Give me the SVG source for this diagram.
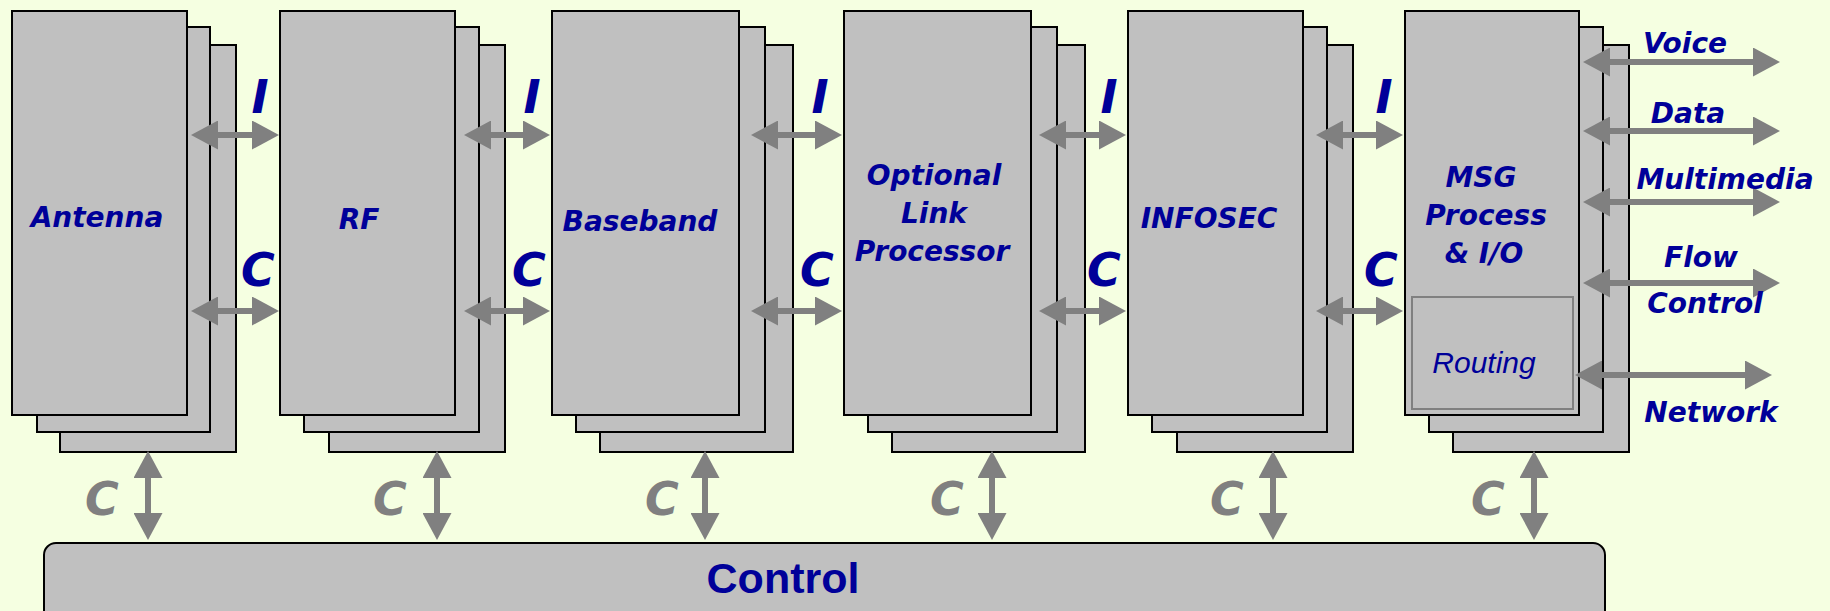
<svg xmlns="http://www.w3.org/2000/svg" width="1830" height="611" viewBox="0 0 1830 611">
<style>
.card{fill:#C0C0C0;stroke:#000;stroke-width:2}
.lbl{font-family:"DejaVu Sans",Verdana,sans-serif;font-weight:bold;font-style:italic;font-size:28px;fill:#000099;text-anchor:middle}
.big{font-size:46px}
.gc{fill:#808080}
.rt{font-family:"Liberation Sans",Arial,sans-serif;font-style:italic;font-size:30px;fill:#000099;text-anchor:middle}
.ctl{font-family:"Liberation Sans",Arial,sans-serif;font-weight:bold;font-size:43px;fill:#000099;text-anchor:middle}
.arr{stroke:#808080;stroke-width:6;fill:none;marker-start:url(#ah);marker-end:url(#ah)}
</style>
<defs>
<marker id="ah" viewBox="0 0 27 29" markerWidth="27" markerHeight="29" markerUnits="userSpaceOnUse" refX="1" refY="14.5" orient="auto-start-reverse">
<path d="M0,0 L27,14.5 L0,29 Z" fill="#808080"/>
</marker>
</defs>
<rect x="0" y="0" width="1830" height="611" fill="#F5FFE1"/>

<g id="antenna">
<rect class="card" x="60" y="45" width="176" height="407"/>
<rect class="card" x="37" y="27" width="173" height="405"/>
<rect class="card" x="12" y="11" width="175" height="404"/>
<text class="lbl" x="97" y="227">Antenna</text>
</g>
<g id="rf">
<rect class="card" x="329" y="45" width="176" height="407"/>
<rect class="card" x="304" y="27" width="175" height="405"/>
<rect class="card" x="280" y="11" width="175" height="404"/>
<text class="lbl" x="359" y="229">RF</text>
</g>
<g id="baseband">
<rect class="card" x="600" y="45" width="193" height="407"/>
<rect class="card" x="576" y="27" width="189" height="405"/>
<rect class="card" x="552" y="11" width="187" height="404"/>
<text class="lbl" x="640" y="231">Baseband</text>
</g>
<g id="optional">
<rect class="card" x="892" y="45" width="193" height="407"/>
<rect class="card" x="868" y="27" width="189" height="405"/>
<rect class="card" x="844" y="11" width="187" height="404"/>
<text class="lbl" x="934" y="185">Optional</text>
<text class="lbl" x="934" y="223">Link</text>
<text class="lbl" x="932" y="261">Processor</text>
</g>
<g id="infosec">
<rect class="card" x="1177" y="45" width="176" height="407"/>
<rect class="card" x="1152" y="27" width="175" height="405"/>
<rect class="card" x="1128" y="11" width="175" height="404"/>
<text class="lbl" x="1209" y="228">INFOSEC</text>
</g>
<g id="msg">
<rect class="card" x="1453" y="45" width="176" height="407"/>
<rect class="card" x="1429" y="27" width="174" height="405"/>
<rect class="card" x="1405" y="11" width="174" height="404"/>
<text class="lbl" x="1481" y="187">MSG</text>
<text class="lbl" x="1486" y="225">Process</text>
<text class="lbl" x="1484" y="263">&amp; I/O</text>
</g>
<g id="routing">
<rect x="1412" y="297" width="161" height="112" fill="#C0C0C0" stroke="#808080" stroke-width="2"/>
<text class="rt" x="1484" y="373">Routing</text>
</g>
<g id="control">
<rect class="card" x="44" y="543" width="1561" height="80" rx="12"/>
<text class="ctl" x="783" y="593">Control</text>
</g>

<g id="connectors">
<line class="arr" x1="217" y1="135" x2="253" y2="135"/>
<line class="arr" x1="490" y1="135" x2="524" y2="135"/>
<line class="arr" x1="777" y1="135" x2="816" y2="135"/>
<line class="arr" x1="1065" y1="135" x2="1100" y2="135"/>
<line class="arr" x1="1342" y1="135" x2="1377" y2="135"/>

<line class="arr" x1="217" y1="311" x2="253" y2="311"/>
<line class="arr" x1="490" y1="311" x2="524" y2="311"/>
<line class="arr" x1="777" y1="311" x2="816" y2="311"/>
<line class="arr" x1="1065" y1="311" x2="1100" y2="311"/>
<line class="arr" x1="1342" y1="311" x2="1377" y2="311"/>

<line class="arr" x1="148" y1="477" x2="148" y2="514"/>
<line class="arr" x1="437" y1="477" x2="437" y2="514"/>
<line class="arr" x1="705" y1="477" x2="705" y2="514"/>
<line class="arr" x1="992" y1="477" x2="992" y2="514"/>
<line class="arr" x1="1273" y1="477" x2="1273" y2="514"/>
<line class="arr" x1="1534" y1="477" x2="1534" y2="514"/>

<line class="arr" x1="1609" y1="62" x2="1754" y2="62"/>
<line class="arr" x1="1609" y1="131" x2="1754" y2="131"/>
<line class="arr" x1="1609" y1="202" x2="1754" y2="202"/>
<line class="arr" x1="1609" y1="283" x2="1754" y2="283"/>
<line class="arr" x1="1601" y1="375" x2="1746" y2="375"/>
</g>

<g id="labels">
<text class="lbl big" x="260" y="113">I</text>
<text class="lbl big" x="532" y="113">I</text>
<text class="lbl big" x="820" y="113">I</text>
<text class="lbl big" x="1109" y="113">I</text>
<text class="lbl big" x="1384" y="113">I</text>
<text class="lbl big" x="258" y="286">C</text>
<text class="lbl big" x="529" y="286">C</text>
<text class="lbl big" x="817" y="286">C</text>
<text class="lbl big" x="1104" y="286">C</text>
<text class="lbl big" x="1381" y="286">C</text>
<text class="lbl big gc" x="102" y="515">C</text>
<text class="lbl big gc" x="390" y="515">C</text>
<text class="lbl big gc" x="662" y="515">C</text>
<text class="lbl big gc" x="947" y="515">C</text>
<text class="lbl big gc" x="1227" y="515">C</text>
<text class="lbl big gc" x="1488" y="515">C</text>
<text class="lbl" x="1685" y="53">Voice</text>
<text class="lbl" x="1688" y="123">Data</text>
<text class="lbl" x="1725" y="189">Multimedia</text>
<text class="lbl" x="1701" y="267">Flow</text>
<text class="lbl" x="1705" y="313">Control</text>
<text class="lbl" x="1711" y="422">Network</text>
</g>
</svg>
